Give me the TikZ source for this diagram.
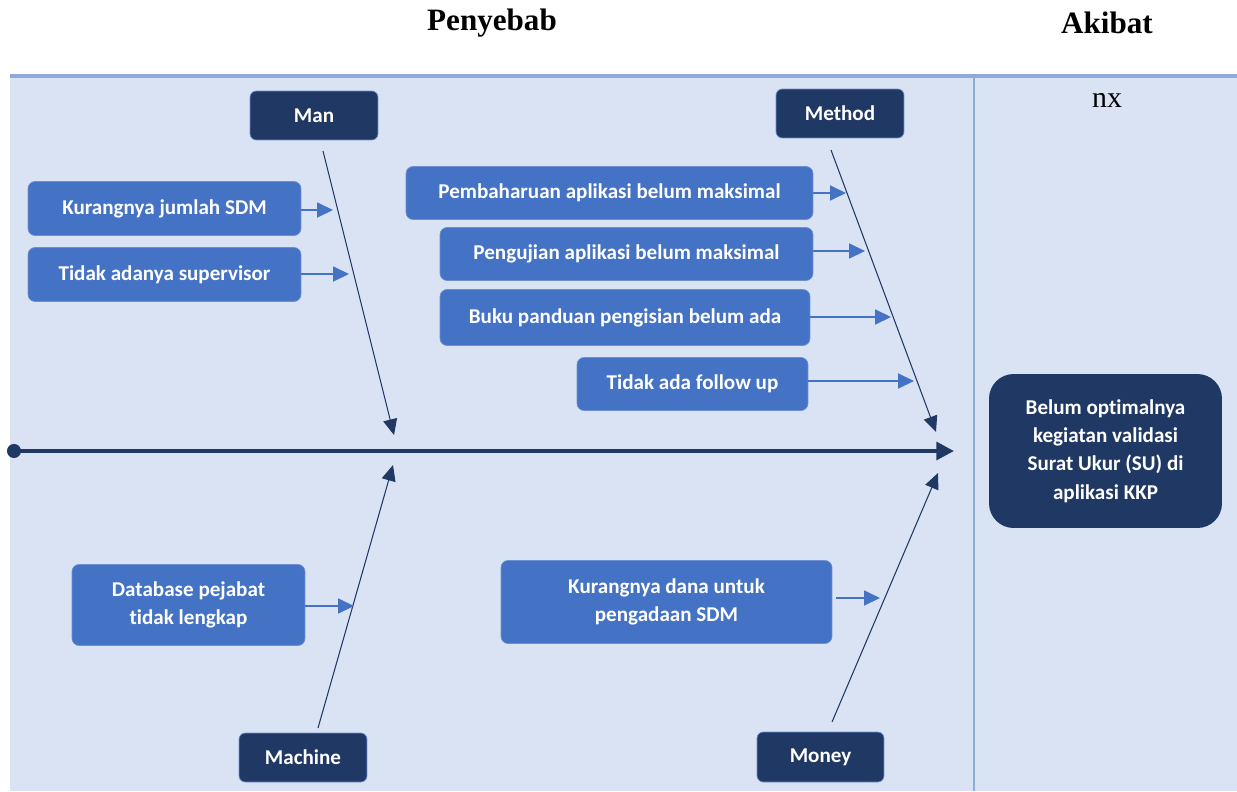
\documentclass[tikz,border=0pt]{standalone}
\usepackage{fontspec}
\setmainfont{Liberation Serif}
\newfontfamily\boxfont[Ligatures=NoCommon]{Carlito}
\usetikzlibrary{arrows.meta}
\definecolor{bgpanel}{HTML}{DAE3F3}
\definecolor{topline}{HTML}{8EAADB}
\definecolor{darkbox}{HTML}{203864}
\definecolor{midbox}{HTML}{4472C4}
\definecolor{midedge}{HTML}{6F8FD3}
\tikzset{
  catbox/.style={rectangle, rounded corners=3.5pt, fill=darkbox, draw=midedge, line width=0.4pt, text=white, inner sep=0pt, minimum width=2.56cm, minimum height=0.98cm, font=\boxfont\bfseries\fontsize{12}{16}\selectfont},
  causebox/.style={rectangle, rounded corners=4pt, fill=midbox, draw=midedge, line width=0.4pt, text=white, inner sep=0pt, align=center, font=\boxfont\bfseries\fontsize{12}{16}\selectfont},
  effectbox/.style={rectangle, rounded corners=14pt, fill=darkbox, text=white, inner sep=0pt, align=center, minimum width=4.66cm, minimum height=3.08cm, font=\boxfont\bfseries\fontsize{12}{16.2}\selectfont},
  bone/.style={draw=darkbox, line width=0.6pt, -{Triangle[length=9pt,width=8pt]}},
  subarrow/.style={draw=midbox, line width=0.8pt, -{Triangle[length=9pt,width=8.5pt]}},
  spine/.style={draw=darkbox, line width=2.3pt, -{Triangle[length=10pt,width=10pt]}},
  title/.style={font=\bfseries\fontsize{17.7}{20}\selectfont, text=black},
}
\begin{document}
\begin{tikzpicture}[x=0.02cm, y=-0.02cm]
\useasboundingbox (0,0) rectangle (1237,791);
% panel
\fill[bgpanel] (10,76) rectangle (1237,791);
\draw[topline, line width=2.3pt] (10,76) -- (1237,76);
\draw[topline, line width=0.6pt] (974,77) -- (974,791);
% titles
\node[title] (penyebab) at (492,23) {Penyebab};
\node[title] (akibat) at (1107,23) {Akibat};
\node[font=\fontsize{17}{20}\selectfont] (nx) at (1107,100) {nx};
% category boxes
\node[catbox] (man) at (314,115.5) {Man};
\node[catbox] (method) at (840,113.5) {Method};
\node[catbox] (machine) at (303,757.5) {Machine};
\node[catbox, minimum width=2.54cm, minimum height=1.0cm] (money) at (820.5,757) {Money};
% cause boxes
\node[causebox, minimum width=5.46cm, minimum height=1.08cm] (k1) at (164.5,208.5) {Kurangnya jumlah SDM};
\node[causebox, minimum width=5.46cm, minimum height=1.08cm] (k2) at (164.5,274.5) {Tidak adanya supervisor};
\node[causebox, minimum width=8.14cm, minimum height=1.06cm] (m1) at (609.5,193) {Pembaharuan aplikasi belum maksimal};
\node[causebox, minimum width=7.46cm, minimum height=1.06cm] (m2) at (626.5,254) {Pengujian aplikasi belum maksimal};
\node[causebox, minimum width=7.40cm, minimum height=1.12cm] (m3) at (625,317.5) {Buku panduan pengisian belum ada};
\node[causebox, minimum width=4.62cm, minimum height=1.06cm] (m4) at (692.5,384) {Tidak ada follow up};
\node[causebox, minimum width=4.66cm, minimum height=1.62cm] (d1) at (188.5,605) {Database pejabat\\tidak lengkap};
\node[causebox, minimum width=6.62cm, minimum height=1.66cm] (u1) at (666.5,602) {Kurangnya dana untuk\\pengadaan SDM};
% effect
\node[effectbox] (effect) at (1105.5,451) {Belum optimalnya\\kegiatan validasi\\Surat Ukur (SU) di\\aplikasi KKP};
% spine
\coordinate (spineS) at (14,451);
\coordinate (spineE) at (954,451);
\draw[spine] (spineS) -- (spineE);
\fill[darkbox] (spineS) circle (4pt);
% bones
\coordinate (manS) at (323,151);
\coordinate (manE) at (394,435);
\coordinate (methodS) at (831,150);
\coordinate (methodE) at (936,432);
\coordinate (machineS) at (318,728);
\coordinate (machineE) at (393,465);
\coordinate (moneyS) at (832,722);
\coordinate (moneyE) at (938,473);
\draw[bone] (manS) -- (manE);
\draw[bone] (methodS) -- (methodE);
\draw[bone] (machineS) -- (machineE);
\draw[bone] (moneyS) -- (moneyE);
% sub arrows
\coordinate (k1t) at (333,210);
\coordinate (k2t) at (349,274);
\coordinate (m1t) at (846,193);
\coordinate (m2t) at (865,251);
\coordinate (m3t) at (891,317);
\coordinate (m4t) at (914,381);
\coordinate (d1t) at (354,606);
\coordinate (u1t) at (880,598);
\draw[subarrow] (k1.east |- k1t) -- (k1t);
\draw[subarrow] (k2.east |- k2t) -- (k2t);
\draw[subarrow] (m1.east |- m1t) -- (m1t);
\draw[subarrow] (m2.east |- m2t) -- (m2t);
\draw[subarrow] (m3.east |- m3t) -- (m3t);
\draw[subarrow] (m4.east |- m4t) -- (m4t);
\draw[subarrow] (d1.east |- d1t) -- (d1t);
\draw[subarrow] ([xshift=2pt]u1.east |- u1t) -- (u1t);
\end{tikzpicture}
\end{document}
